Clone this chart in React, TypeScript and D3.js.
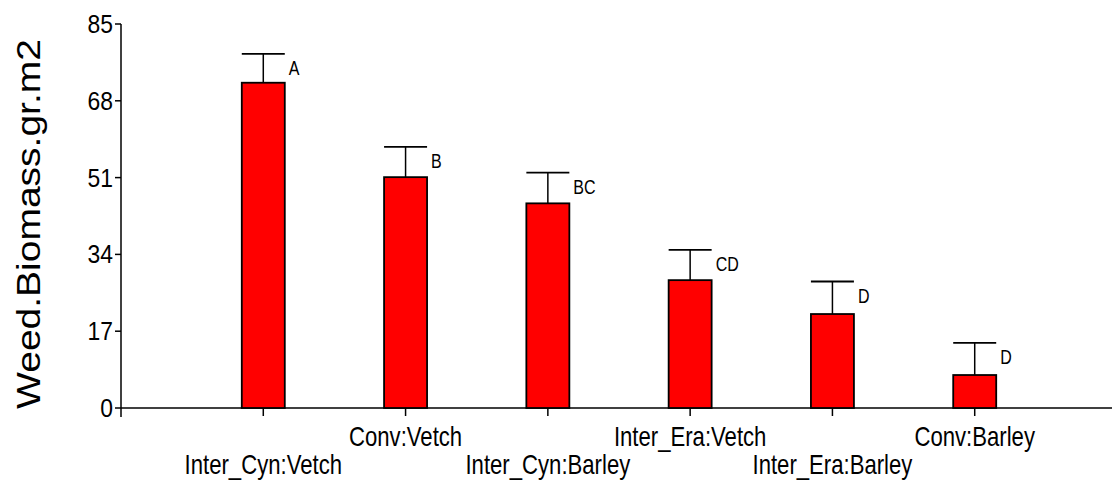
import React from 'react';
import * as d3 from 'd3';

const categories = [
  'Inter_Cyn:Vetch',
  'Conv:Vetch',
  'Inter_Cyn:Barley',
  'Inter_Era:Vetch',
  'Inter_Era:Barley',
  'Conv:Barley',
];
const means = [72.0, 51.1, 45.3, 28.3, 20.8, 7.3];
const upperErr = [6.4, 6.7, 6.8, 6.7, 7.2, 7.1];
const letters = ['A', 'B', 'BC', 'CD', 'D', 'D'];
const yTicks = [0, 17, 34, 51, 68, 85];

const FONT = '"Liberation Sans", Arial, sans-serif';
const SX = 0.84; // the source plot is squeezed horizontally

const App = () => {
  const width = 1112;
  const height = 481;
  const x = d3.scaleLinear().domain([0, 7]).range([121, 1117]);
  const y = d3.scaleLinear().domain([0, 85]).range([408, 24]);
  const barW = 43;

  return (
    <svg
      width={width}
      height={height}
      style={{ position: 'absolute', left: 0, top: 0, background: '#fff' }}
      fontFamily={FONT}
    >
      {/* y axis */}
      <line x1={x(0)} x2={x(0)} y1={y(85)} y2={y(0) + 9} stroke="#000" strokeWidth={1.5} />
      {yTicks.map((t) => (
        <g key={t}>
          <line x1={x(0) - 6} x2={x(0)} y1={y(t)} y2={y(t)} stroke="#000" strokeWidth={1.5} />
          <text
            transform={`translate(${x(0) - 8},${y(t) + 9}) scale(0.88,1)`}
            textAnchor="end"
            fontSize={26}
          >
            {t}
          </text>
        </g>
      ))}
      <text
        transform={`translate(40,${(y(85) + y(0)) / 2 + 8}) scale(${SX},1) rotate(-90)`}
        textAnchor="middle"
        fontSize={39}
      >
        Weed.Biomass.gr.m2
      </text>

      {/* x axis */}
      <line x1={x(0)} x2={width} y1={y(0)} y2={y(0)} stroke="#000" strokeWidth={1.5} />
      {categories.map((c, i) => {
        const cx = x(i + 1);
        const top = y(means[i]);
        const errTop = y(means[i] + upperErr[i]);
        const lower = i % 2 === 0;
        return (
          <g key={c}>
            <line x1={cx} x2={cx} y1={errTop} y2={top} stroke="#000" strokeWidth={1.5} />
            <line x1={cx - barW / 2} x2={cx + barW / 2} y1={errTop} y2={errTop} stroke="#000" strokeWidth={1.8} />
            <rect
              x={cx - barW / 2}
              y={top}
              width={barW}
              height={y(0) - top}
              fill="#ff0000"
              stroke="#000"
              strokeWidth={1.8}
            />
            <line x1={cx} x2={cx} y1={y(0)} y2={y(0) + 8} stroke="#000" strokeWidth={1.5} />
            <text
              transform={`translate(${cx + barW / 2 + 4},${errTop + 21}) scale(0.8,1)`}
              fontSize={20}
            >
              {letters[i]}
            </text>
            <text
              transform={`translate(${cx},${lower ? 474 : 446}) scale(0.82,1)`}
              textAnchor="middle"
              fontSize={27}
            >
              {c}
            </text>
          </g>
        );
      })}
    </svg>
  );
};

export default App;
